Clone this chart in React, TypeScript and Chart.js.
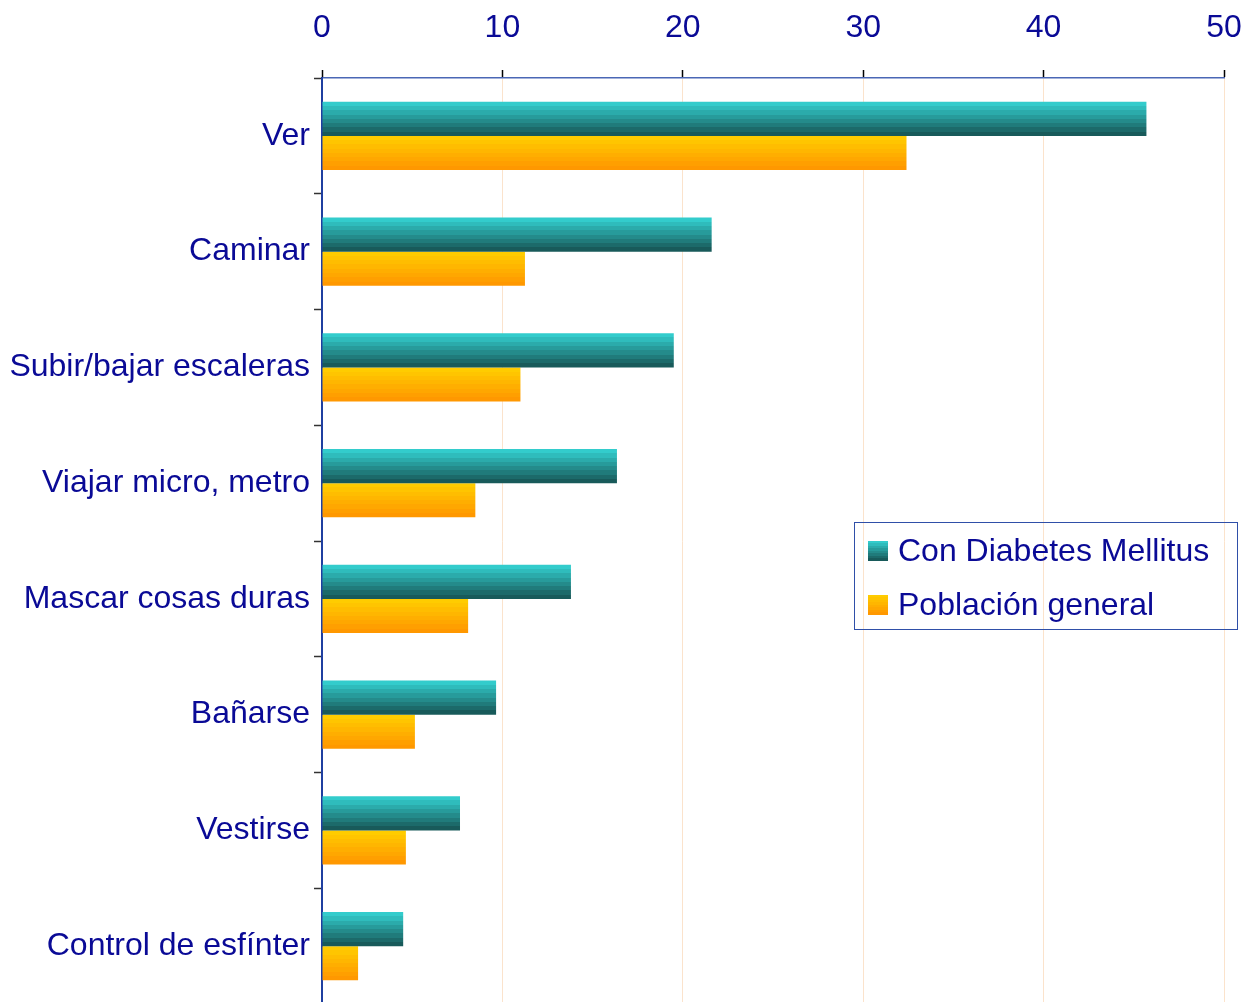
import React, { useEffect, useRef } from "react";
import { Chart, registerables } from "chart.js";

Chart.register(...registerables);

const categories = [
  "Ver",
  "Caminar",
  "Subir/bajar escaleras",
  "Viajar micro, metro",
  "Mascar cosas duras",
  "Bañarse",
  "Vestirse",
  "Control de esfínter",
];
const seriesNames = ["Con Diabetes Mellitus", "Población general"];
const diabetes = [45.7, 21.6, 19.5, 16.35, 13.8, 9.65, 7.65, 4.5];
const general = [32.4, 11.25, 11.0, 8.5, 8.1, 5.15, 4.65, 2.0];
const xMin = 0;
const xMax = 50;
const xStep = 10;

const FONT = '"Liberation Sans", Arial, sans-serif';
const NAVY = "#0a0a96";
const CAT_PCT = 0.59;
const FS = 32;

const palettes: [number[], number[]][] = [
  [[51, 204, 204], [24, 90, 90]],
  [[255, 204, 0], [255, 152, 0]],
];

function makeGradient(ctx: CanvasRenderingContext2D, top: number, h: number, idx: number) {
  const [a, b] = palettes[idx];
  const g = ctx.createLinearGradient(0, top, 0, top + h);
  const n = 8;
  for (let i = 0; i < n; i++) {
    const t = i / (n - 1);
    const c = a.map((v, k) => Math.round(v + (b[k] - v) * t));
    const col = `rgb(${c[0]},${c[1]},${c[2]})`;
    g.addColorStop(i / n, col);
    g.addColorStop(Math.min(1, (i + 1) / n - 0.0001), col);
  }
  return g;
}

function barColor(idx: number) {
  return (context: any) => {
    const chart = context.chart;
    const y = chart.scales && chart.scales.y;
    const fallback = `rgb(${palettes[idx][0].join(",")})`;
    if (!y || context.type !== "data") return fallback;
    const c = y.getPixelForValue(context.dataIndex);
    const catH = (y.bottom - y.top) / categories.length;
    const bh = (catH * CAT_PCT) / 2;
    const top = idx === 0 ? c - bh : c;
    if (!isFinite(top) || !isFinite(bh) || bh <= 0) return fallback;
    return makeGradient(chart.ctx, top, bh, idx);
  };
}

const legendPlugin = {
  id: "boxLegend",
  afterDraw(chart: any) {
    const ctx = chart.ctx as CanvasRenderingContext2D;
    const bx = 854.5, by = 522.5, bw = 383, bh = 107;
    ctx.save();
    ctx.strokeStyle = "#2f4fa8";
    ctx.lineWidth = 1;
    ctx.strokeRect(bx, by, bw, bh);
    ctx.font = `${FS}px ${FONT}`;
    ctx.textBaseline = "middle";
    ctx.textAlign = "left";
    const rows = [551, 605];
    chart.data.datasets.forEach((ds: any, i: number) => {
      const cy = rows[i];
      ctx.fillStyle = makeGradient(ctx, cy - 10, 20, i);
      ctx.fillRect(868, cy - 10, 20, 20);
      ctx.fillStyle = NAVY;
      ctx.fillText(ds.label, 898, cy + 1);
    });
    ctx.restore();
  },
};

export default function App() {
  const ref = useRef<HTMLCanvasElement>(null);
  useEffect(() => {
    document.body.style.margin = "0";
    const chart = new Chart(ref.current!, {
      type: "bar",
      data: {
        labels: categories,
        datasets: [
          {
            label: seriesNames[0],
            data: diabetes,
            backgroundColor: barColor(0),
            borderWidth: 0,
            categoryPercentage: CAT_PCT,
            barPercentage: 1,
          },
          {
            label: seriesNames[1],
            data: general,
            backgroundColor: barColor(1),
            borderWidth: 0,
            categoryPercentage: CAT_PCT,
            barPercentage: 1,
          },
        ],
      },
      options: {
        indexAxis: "y",
        responsive: false,
        animation: false,
        devicePixelRatio: 1,
        layout: { padding: { left: 0, right: 19, top: 0, bottom: 1 } },
        plugins: { legend: { display: false }, tooltip: { enabled: false } },
        scales: {
          x: {
            position: "top",
            min: xMin,
            max: xMax,
            ticks: {
              stepSize: xStep,
              color: NAVY,
              font: { size: FS, family: FONT },
              padding: 23,
            },
            grid: {
              color: "#fbe3cc",
              lineWidth: 1,
              drawTicks: true,
              tickLength: 8,
              tickColor: "#000",
              tickWidth: 1.5,
            },
            border: { color: "#4a67b5", width: 1.5 },
            afterFit: (s: any) => {
              s.height = 78;
              s.paddingLeft = 0;
              s.paddingRight = 0;
              s.paddingTop = 0;
              s.paddingBottom = 0;
            },
          },
          y: {
            ticks: {
              color: NAVY,
              font: { size: FS, family: FONT },
              padding: 4,
            },
            grid: {
              offset: true,
              drawOnChartArea: false,
              drawTicks: true,
              tickLength: 8,
              tickColor: "#333",
              tickWidth: 1.5,
            },
            border: { color: "#1f3fa0", width: 2 },
            afterFit: (s: any) => {
              s.width = 322;
              s.paddingLeft = 0;
              s.paddingRight = 0;
              s.paddingTop = 0;
              s.paddingBottom = 0;
            },
          },
        },
      },
      plugins: [legendPlugin],
    } as any);
    return () => chart.destroy();
  }, []);
  return (
    <div
      style={{
        position: "fixed",
        left: 0,
        top: 0,
        width: 1243,
        height: 1002,
        overflow: "hidden",
        background: "#fff",
      }}
    >
      <canvas ref={ref} width={1243} height={1005} style={{ display: "block" }} />
    </div>
  );
}
